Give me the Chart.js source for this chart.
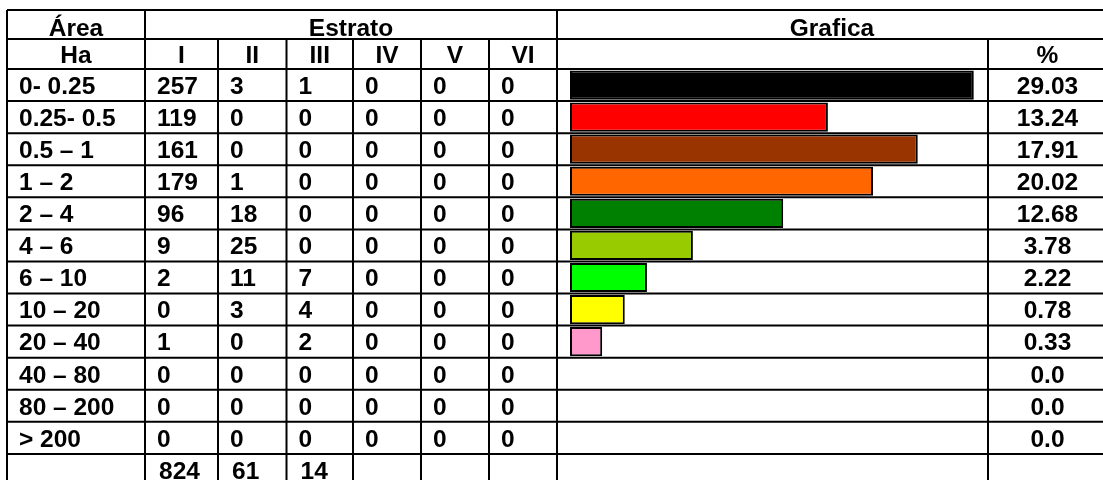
<!DOCTYPE html>
<html>
<head>
<meta charset="utf-8">
<script src="https://cdn.jsdelivr.net/npm/chart.js@4"></script>
<style>
  html, body { margin: 0; padding: 0; background: #fff; overflow: hidden; }
  canvas { display: block; }
</style>
</head>
<body>
<canvas id="chart" width="1103" height="490"></canvas>
<script>
const areaLabels = ['0- 0.25', '0.25- 0.5', '0.5 – 1', '1 – 2', '2 – 4', '4 – 6', '6 – 10',
                    '10 – 20', '20 – 40', '40 – 80', '80 – 200', '> 200'];
const estratoLabels = ['I', 'II', 'III', 'IV', 'V', 'VI'];

const estratoI   = [257, 119, 161, 179, 96, 9, 2, 0, 1, 0, 0, 0];
const estratoII  = [3, 0, 0, 1, 18, 25, 11, 3, 0, 0, 0, 0];
const estratoIII = [1, 0, 0, 0, 0, 0, 7, 4, 2, 0, 0, 0];
const estratoIV  = [0, 0, 0, 0, 0, 0, 0, 0, 0, 0, 0, 0];
const estratoV   = [0, 0, 0, 0, 0, 0, 0, 0, 0, 0, 0, 0];
const estratoVI  = [0, 0, 0, 0, 0, 0, 0, 0, 0, 0, 0, 0];
const totals = ['824', '61', '14', '', '', ''];

const percent = ['29.03', '13.24', '17.91', '20.02', '12.68', '3.78', '2.22', '0.78', '0.33', '0.0', '0.0', '0.0'];
// bar lengths as drawn in the picture (they don't follow the % column)
const barLength = [96.6, 61.7, 83.2, 72.5, 51.0, 29.4, 18.4, 13.1, 7.7, 0, 0, 0];
const barColors = ['#000000', '#ff0000', '#993300', '#ff6600', '#008000', '#99cc00',
                   '#00ff00', '#ffff00', '#ff99cc', '#ffffff', '#ffffff', '#ffffff'];

const columns = [estratoI, estratoII, estratoIII, estratoIV, estratoV, estratoVI];

// table geometry
const L = 7, R = 1107, TOP = 10, MID = 39;
const colX = [145, 218, 286.5, 353, 421, 489, 557];
const pctX = 988;
const FONT_PX = 24.5;
const FONT = 'bold ' + FONT_PX + 'px "Liberation Sans", Arial, sans-serif';
const CAP = 0.716 * FONT_PX;

// text vertically centred on its cap height
function txt(ctx, s, x, yMid, align) {
    ctx.textAlign = align;
    ctx.fillText(s, x, Math.round(yMid + CAP / 2));
}

const tablePlugin = {
    id: 'table',
    afterDraw(chart) {
        const ctx = chart.ctx;
        const ys = chart.scales.y;
        const n = ys.ticks.length;
        const rowH = (chart.chartArea.bottom - chart.chartArea.top) / n;
        const bottom = chart.chartArea.bottom;

        ctx.save();
        ctx.strokeStyle = '#000';
        ctx.lineWidth = 2;
        ctx.beginPath();
        // horizontal lines
        [TOP, MID].forEach(y => { ctx.moveTo(L, y); ctx.lineTo(R, y); });
        for (let i = 0; i <= n; i++) {
            const y = ys.getPixelForValue(i) - rowH / 2;
            ctx.moveTo(L, y); ctx.lineTo(R, y);
        }
        // vertical lines
        [L, colX[0], colX[6]].forEach(x => { ctx.moveTo(x, TOP); ctx.lineTo(x, bottom); });
        colX.slice(1, 6).concat([pctX]).forEach(x => { ctx.moveTo(x, MID); ctx.lineTo(x, bottom); });
        ctx.stroke();

        ctx.fillStyle = '#000';
        ctx.font = FONT;
        ctx.textBaseline = 'alphabetic';

        // header
        txt(ctx, 'Área', (L + colX[0]) / 2, 27.5, 'center');
        txt(ctx, 'Estrato', (colX[0] + colX[6]) / 2, 27.5, 'center');
        txt(ctx, 'Grafica', (colX[6] + R) / 2, 27.5, 'center');
        txt(ctx, 'Ha', (L + colX[0]) / 2, 54.5, 'center');
        estratoLabels.forEach((s, j) => txt(ctx, s, (colX[j] + colX[j + 1]) / 2, 54.5, 'center'));
        txt(ctx, '%', (pctX + R) / 2, 54.5, 'center');

        // body
        areaLabels.forEach((lab, i) => {
            const y = ys.getPixelForValue(i);
            txt(ctx, lab, L + 12, y, 'left');
            columns.forEach((col, j) => txt(ctx, String(col[i]), colX[j] + 12, y, 'left'));
            txt(ctx, percent[i], (pctX + R) / 2, y, 'center');
        });

        // totals row
        const yt = ys.getPixelForValue(areaLabels.length);
        totals.forEach((s, j) => { if (s) txt(ctx, s, colX[j] + 14, yt, 'left'); });
        ctx.restore();
    }
};

new Chart('chart', {
    type: 'bar',
    data: {
        labels: areaLabels.concat(['']),
        datasets: [{
            data: barLength.concat([null]),
            backgroundColor: barColors,
            borderColor: barLength.map(v => v > 0 ? '#000' : 'rgba(0,0,0,0)'),
            borderWidth: 2,
            borderSkipped: false,
            barPercentage: 0.91,
            categoryPercentage: 1.0
        }]
    },
    options: {
        indexAxis: 'y',
        responsive: false,
        animation: false,
        devicePixelRatio: 1,
        layout: { padding: { left: 570, right: 1103 - 988, top: 69, bottom: 4 } },
        scales: {
            x: { display: false, min: 0, max: 100 },
            y: { display: false }
        },
        plugins: {
            legend: { display: false },
            tooltip: { enabled: false }
        }
    },
    plugins: [tablePlugin]
});
</script>
</body>
</html>
